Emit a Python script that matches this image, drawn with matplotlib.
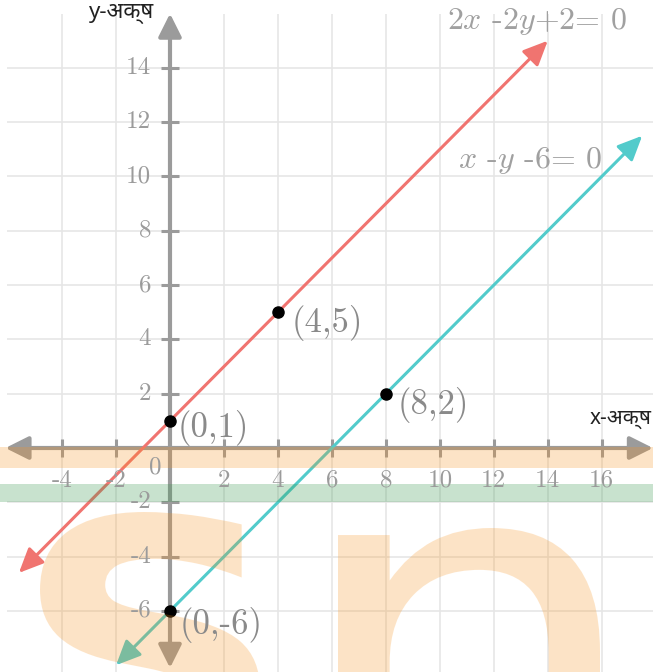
import matplotlib
matplotlib.use("Agg")
from matplotlib import pyplot as plt
from matplotlib.textpath import TextPath
from matplotlib.patches import PathPatch
from matplotlib.font_manager import FontProperties
import matplotlib.transforms as mtransforms
import numpy as np

plt.rcParams['mathtext.fontset'] = 'cm'
plt.rcParams['axes.unicode_minus'] = False

# tick values
x_ticks = [-4, -2, 2, 4, 6, 8, 10, 12, 14, 16]
y_ticks = [-6, -4, -2, 2, 4, 6, 8, 10, 12, 14]

# line endpoints
red_x = [-5.6, 14.0]
red_y = [-4.6, 15.0]
cyan_x = [-2.0, 17.5]
cyan_y = [-8.0, 11.5]

# marked points
pt_x = [0, 4, 8, 0]
pt_y = [1, 5, 2, -6]
pt_lab = ['(0,1)', '(4,5)', '(8,2)', '(0,-6)']

GRAY = '#9b9b9b'
RED = '#f07470'
CYAN = '#52cbcb'
SERIF = 'cmr10'
W, H = 653, 672

fig = plt.figure(figsize=(W / 100, H / 100), dpi=100)
ax = fig.add_axes([0, 0, 1, 1])
ax.set_xlim(-6.3, 17.9)
ax.set_ylim(-8.25, 16.5)
ax.axis('off')

# grid
ax.vlines(x_ticks, -8.25, 16.0, color='#e6e6e6', lw=1.2, zorder=0)
ax.hlines(y_ticks, -6.05, 17.9, color='#e6e6e6', lw=1.2, zorder=0)

# axes with arrows
arr = dict(arrowstyle='<|-|>,head_length=1.0,head_width=0.5', color=GRAY,
           lw=3, mutation_scale=14, shrinkA=0, shrinkB=0)
ax.annotate('', xy=(17.9, 0), xytext=(-6.1, 0), arrowprops=arr, zorder=2)
ax.annotate('', xy=(0, 16.0), xytext=(0, -8.1), arrowprops=arr, zorder=2)

# tick marks
ax.plot(x_ticks, [0] * len(x_ticks), ls='none', marker='|', ms=13, mew=2.2,
        color=GRAY, zorder=2)
ax.plot([0] * len(y_ticks), y_ticks, ls='none', marker='_', ms=13, mew=2.2,
        color=GRAY, zorder=2)

# tick labels
for t in x_ticks:
    ax.text(t, -1.2, str(t), ha='center', va='center', fontsize=18,
            family=SERIF, color=GRAY, zorder=6)
for t in y_ticks:
    ax.text(-0.7, t, str(t), ha='right', va='center', fontsize=18,
            family=SERIF, color=GRAY, zorder=6)
ax.text(-0.55, -0.7, '0', ha='center', va='center', fontsize=18,
        family=SERIF, color=GRAY, zorder=6)

# lines
for lx, ly, c in [(red_x, red_y, RED), (cyan_x, cyan_y, CYAN)]:
    ax.annotate('', xy=(lx[1], ly[1]), xytext=(lx[0], ly[0]),
                arrowprops=dict(arrowstyle='<|-|>,head_length=1.0,head_width=0.45',
                                color=c, lw=2.2, mutation_scale=15,
                                shrinkA=0, shrinkB=0), zorder=3)

# points
ax.plot(pt_x, pt_y, 'o', color='black', ms=8, zorder=4)
offs = [(0.28, -0.26), (0.5, -0.4), (0.42, -0.42), (0.35, -0.52)]
for x, y, s, (dx, dy) in zip(pt_x, pt_y, pt_lab, offs):
    ax.text(x + dx, y + dy, s, ha='left', va='center', fontsize=25,
            family=SERIF, color='#8a8a8a', zorder=6)

# equations
ax.text(13.6, 15.7, r'$2x$ -$2y$+2= 0', ha='center', va='center',
        fontsize=23, family=SERIF, color='#a0a0a0', zorder=6)
ax.text(13.35, 10.6, r'$x$ -$y$ -6= 0', ha='center', va='center',
        fontsize=23, family=SERIF, color='#a0a0a0', zorder=6)

# axis names
lab_fonts = ['Noto Sans', 'DejaVu Sans']
ax.text(-1.8, 16.0, 'y-अक्ष', ha='center', va='center', fontsize=16,
        family=lab_fonts, color='#222222', zorder=6)
ax.text(17.85, 1.1, 'x-अक्ष', ha='right', va='center', fontsize=15,
        family=lab_fonts, color='#222222', zorder=6)

# watermark: two bands and big letters
ax.axhspan(-0.74, 0.04, color='#f7931e', alpha=0.25, lw=0, zorder=5)
ax.axhspan(-1.99, -1.33, color='#3a9a50', alpha=0.28, lw=0, zorder=5)


def glyph(ch, weight, left, top, width, height):
    # place a letter outline in a pixel box (top-left origin)
    tp = TextPath((0, 0), ch, size=1, prop=FontProperties(family='DejaVu Sans', weight=weight))
    bb = tp.get_extents()
    tr = (mtransforms.Affine2D()
          .translate(-bb.x0, -bb.y1)
          .scale(width / bb.width / W, height / bb.height / H)
          .translate(left / W, 1 - top / H))
    ax.add_patch(PathPatch(tp, transform=tr + ax.transAxes, color='#f7931e',
                           alpha=0.25, lw=0, zorder=5))


glyph('S', 'bold', 40, 512, 220, 260)
glyph('n', 'normal', 338, 528, 262, 300)

plt.savefig('out.png', dpi=100)
